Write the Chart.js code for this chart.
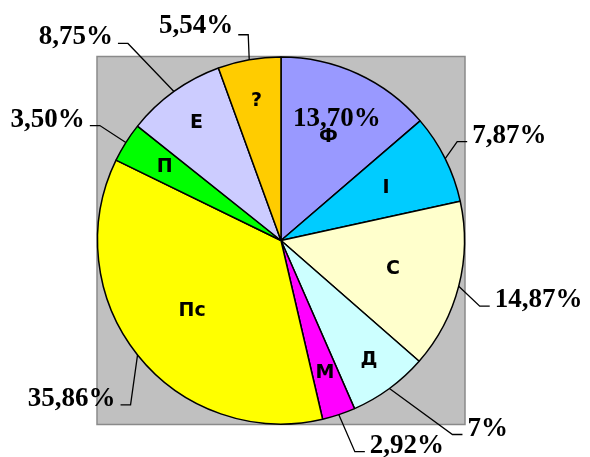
<!DOCTYPE html>
<html>
<head>
<meta charset="utf-8">
<script src="https://cdn.jsdelivr.net/npm/chart.js@4/dist/chart.umd.min.js"></script>
<style>
    html, body { margin: 0; padding: 0; background: #ffffff; }
</style>
</head>
<body>
<canvas id="pieChart" width="590" height="457"></canvas>
<script>
let categories = ['Ф', 'I', 'С', 'Д', 'М', 'Пс', 'П', 'Е', '?'];
let shares = [13.70, 7.87, 14.87, 7, 2.92, 35.86, 3.50, 8.75, 5.54];
let shareLabels = ['13,70%', '7,87%', '14,87%', '7%', '2,92%', '35,86%', '3,50%', '8,75%', '5,54%'];
let sliceColors = ['#9999ff', '#00ccff', '#ffffcc', '#ccffff', '#ff00ff', '#ffff00', '#00ff00', '#ccccff', '#ffcc00'];

// leader line elbows, relative to the arc edge at the slice middle (null = label sits inside)
let leaderElbows = [null, [12, -17], [21, 20], [63, 46], [16, 37], [-7, 50], [-26, -17], [-46, -48], [-1, -25]];
// where the category name sits, as a share of the radius
let nameRadius = [0.62, 0.64, 0.63, 0.81, 0.76, 0.62, 0.75, 0.79, 0.77];

/**
 * Grey square behind the pie.
 */
let plotBackground = {
    id: 'plotBackground',
    beforeDatasetsDraw(chart) {
        let arc = chart.getDatasetMeta(0).data[0];
        let ctx = chart.ctx;
        let r = arc.outerRadius + 0.5;

        ctx.save();
        ctx.fillStyle = '#c0c0c0';
        ctx.fillRect(arc.x - r, arc.y - r, 2 * r, 2 * r);
        ctx.strokeStyle = '#8a8a8a';
        ctx.lineWidth = 1.5;
        ctx.strokeRect(arc.x - r, arc.y - r, 2 * r, 2 * r);
        ctx.restore();
    }
};

/**
 * Category names inside the slices and percentages with leader lines.
 */
let sliceLabels = {
    id: 'sliceLabels',
    afterDatasetsDraw(chart) {
        let ctx = chart.ctx;
        let arcs = chart.getDatasetMeta(0).data;

        ctx.save();
        arcs.forEach((arc, i) => {
            let mid = (arc.startAngle + arc.endAngle) / 2;
            let R = arc.outerRadius;
            let cos = Math.cos(mid);
            let sin = Math.sin(mid);

            // category name
            ctx.fillStyle = '#000000';
            ctx.font = 'bold 19px "DejaVu Sans"';
            ctx.textAlign = 'center';
            ctx.textBaseline = 'middle';
            ctx.fillText(categories[i], arc.x + cos * R * nameRadius[i], arc.y + sin * R * nameRadius[i]);

            // percentage
            ctx.font = 'bold 27px "Liberation Serif"';
            let elbow = leaderElbows[i];
            if (!elbow) {
                ctx.textAlign = 'center';
                ctx.textBaseline = 'middle';
                ctx.fillText(shareLabels[i], arc.x + cos * R * 0.73, arc.y + sin * R * 0.73);
                return;
            }

            let ax = arc.x + cos * R;
            let ay = arc.y + sin * R;
            let ex = ax + elbow[0];
            let ey = ay + elbow[1];
            let side = elbow[0] < 0 ? -1 : 1;
            let tx = ex + side * 10;

            ctx.strokeStyle = '#000000';
            ctx.lineWidth = 1.3;
            ctx.beginPath();
            ctx.moveTo(ax, ay);
            ctx.lineTo(ex, ey);
            ctx.lineTo(tx, ey);
            ctx.stroke();

            ctx.textAlign = side < 0 ? 'right' : 'left';
            ctx.textBaseline = 'alphabetic';
            ctx.fillText(shareLabels[i], tx + side * 5, ey + (i === 8 ? -2 : 1));
        });
        ctx.restore();
    }
};

new Chart(document.getElementById('pieChart'), {
    type: 'pie',
    data: {
        labels: categories,
        datasets: [{
            data: shares,
            backgroundColor: sliceColors,
            borderColor: '#000000',
            borderWidth: 1.5
        }]
    },
    options: {
        responsive: false,
        animation: false,
        layout: {
            padding: { left: 96.75, right: 124.75, top: 56.25, bottom: 32.25 }
        },
        plugins: {
            legend: { display: false },
            tooltip: { enabled: false }
        }
    },
    plugins: [plotBackground, sliceLabels]
});
</script>
</body>
</html>
